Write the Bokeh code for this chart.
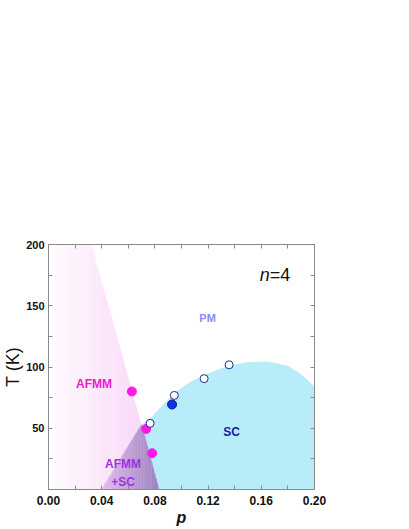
from bokeh.plotting import figure
from bokeh.models import Range1d, LinearAxis, FixedTicker, Label, ColumnDataSource
from bokeh.embed import file_html
from bokeh.resources import INLINE

# ---------------- data ----------------
# AFMM (magenta filled) points
afmm_p = [0.0627, 0.0734, 0.0779]
afmm_T = [80.0, 49.4, 29.6]
# Tc open circles
tc_p = [0.0764, 0.0946, 0.117, 0.1358]
tc_T = [54.0, 76.8, 90.5, 101.8]
# blue filled point
sc_p = [0.0929]
sc_T = [69.4]

# AFMM boundary line (p at T=200, p at T=0)
afmm_line_p = [0.0322, 0.083]
afmm_line_T = [200.0, 0.0]
afmm_left_p = 0.005

# AFMM+SC coexistence region vertices
coex_p = [0.040, 0.070, 0.083]
coex_T = [0.0, 53.0, 0.0]

# SC dome upper boundary
dome_p = [0.070, 0.077, 0.085, 0.095, 0.105, 0.12, 0.135, 0.15, 0.165, 0.18, 0.19, 0.20]
dome_T = [53, 58.5, 68, 79, 87, 95, 101, 104, 104.5, 101, 94, 84]

x_major = [0.00, 0.04, 0.08, 0.12, 0.16, 0.20]
x_minor = [0.02, 0.06, 0.10, 0.14, 0.18]
y_major = [50, 100, 150, 200]
y_minor = [25, 75, 125, 175]

FONT = "Liberation Sans"

p = figure(width=408, height=528, output_backend="svg", toolbar_location=None,
           x_range=Range1d(0, 0.2), y_range=Range1d(0, 200),
           x_axis_location=None, y_axis_location=None)
p.min_border_left = 47
p.min_border_right = 94
p.min_border_top = 244
p.min_border_bottom = 39
p.xgrid.visible = False
p.ygrid.visible = False
p.outline_line_color = "#8a8a8a"
p.outline_line_width = 1
p.background_fill_color = "white"
p.border_fill_color = "white"


def clip_strip(poly, a, b):
    def clip(pts, inside, inter):
        out = []
        n = len(pts)
        for i in range(n):
            cur, prev = pts[i], pts[i - 1]
            if inside(cur):
                if not inside(prev):
                    out.append(inter(prev, cur))
                out.append(cur)
            elif inside(prev):
                out.append(inter(prev, cur))
        return out

    def ix(x0):
        def f(p1, p2):
            t = (x0 - p1[0]) / (p2[0] - p1[0])
            return (x0, p1[1] + t * (p2[1] - p1[1]))
        return f

    pts = clip(poly, lambda q: q[0] >= a, ix(a))
    if not pts:
        return pts
    pts = clip(pts, lambda q: q[0] <= b, ix(b))
    return pts


def mix(c1, c2, t):
    return "#%02x%02x%02x" % tuple(int(round(c1[i] + (c2[i] - c1[i]) * t)) for i in range(3))


def gradient_fill(poly, x0, x1, c_left, c_right, n=40):
    xs, ys, cs = [], [], []
    for i in range(n):
        a = x0 + (x1 - x0) * i / n
        b = x0 + (x1 - x0) * (i + 1) / n + 1e-5
        pts = clip_strip(poly, a, b)
        if len(pts) < 3:
            continue
        xs.append([q[0] for q in pts])
        ys.append([q[1] for q in pts])
        cs.append(mix(c_left, c_right, (i + 0.5) / n))
    src = ColumnDataSource(dict(xs=xs, ys=ys, c=cs))
    p.patches("xs", "ys", source=src, fill_color="c", line_color="c", line_width=0.5)


# SC dome (light blue)
blue_x = [afmm_line_p[1]] + dome_p + [dome_p[-1]]
blue_y = [0.0] + dome_T + [0.0]
p.patch(blue_x, blue_y, fill_color="#b9ecf9", line_color=None)

# AFMM pink region with gradient
pink_poly = [(afmm_left_p, 0.0), (afmm_left_p, 200.0),
             (afmm_line_p[0], afmm_line_T[0]), (afmm_line_p[1], afmm_line_T[1])]
gradient_fill(pink_poly, afmm_left_p, afmm_line_p[1], (255, 250, 255), (248, 210, 246), n=50)

# AFMM+SC coexistence (purple gradient)
coex_poly = list(zip(coex_p, coex_T))
gradient_fill(coex_poly, coex_p[0], coex_p[2], (228, 190, 238), (156, 132, 192), n=40)

# points
p.scatter(afmm_p, afmm_T, size=9, fill_color="#ff19e6", line_color="#ff19e6")
p.scatter(tc_p, tc_T, size=8, fill_color="white", line_color="#1a2a9a", line_width=1)
p.scatter(sc_p, sc_T, size=9, fill_color="#1430e0", line_color="#0a1a9a", line_width=1)

# in-plot labels
def lab(x, y, text, color, size, style="bold", align="center"):
    p.add_layout(Label(x=x, y=y, text=text, text_color=color, text_font=FONT,
                       text_font_size=size, text_font_style=style,
                       text_align=align, text_baseline="middle"))

lab(0.0342, 86.5, "AFMM", "#e81ccc", "12px")
lab(0.1196, 140.0, "PM", "#8c8cee", "11px")
lab(0.1376, 47.0, "SC", "#1a1aa8", "12px")
lab(0.0560, 20.5, "AFMM", "#a030e8", "12px")
lab(0.0560, 6.5, "+SC", "#a030e8", "12px")
lab(0.1663, 175.0, "n", "#111111", "18px", style="italic", align="right")
lab(0.1663, 175.0, "=4", "#111111", "18px", style="normal", align="left")

# axes
def axis(ticks, minor, show_labels, fmt_dec=None, size="12px"):
    ax = LinearAxis(ticker=FixedTicker(ticks=ticks, minor_ticks=minor))
    ax.axis_line_color = "#8a8a8a"
    ax.major_tick_line_color = "#8a8a8a"
    ax.minor_tick_line_color = "#8a8a8a"
    ax.major_tick_in = 4
    ax.major_tick_out = 0
    ax.minor_tick_in = 4
    ax.minor_tick_out = 0
    ax.major_label_text_font = FONT
    ax.major_label_text_font_style = "bold"
    ax.major_label_text_font_size = size
    ax.major_label_text_color = "#111111"
    if show_labels:
        if fmt_dec is not None:
            ax.major_label_overrides = {t: ("%." + str(fmt_dec) + "f") % t for t in ticks}
    else:
        ax.major_label_overrides = {t: "" for t in ticks}
        ax.major_label_text_font_size = "1px"
    return ax

bottom = axis(x_major, x_minor, True, 2, "12px")
bottom.major_label_standoff = 6
bottom.axis_label = "p"
bottom.axis_label_text_font = FONT
bottom.axis_label_text_font_size = "16px"
bottom.axis_label_text_font_style = "bold italic"
bottom.axis_label_text_color = "#111111"
bottom.axis_label_standoff = 1

left = axis(y_major, y_minor, True, 0, "11px")
left.major_label_standoff = 4
left.axis_label = "T (K)"
left.axis_label_text_font = FONT
left.axis_label_text_font_size = "18px"
left.axis_label_text_font_style = "normal"
left.axis_label_text_color = "#111111"
left.axis_label_standoff = 0

top = axis(sorted(x_major + x_minor), [], False)
right = axis(y_minor + y_major, [], False)
p.add_layout(bottom, "below")
p.add_layout(left, "left")
p.add_layout(top, "above")
p.add_layout(right, "right")

open("out.html", "w").write(file_html(p, INLINE))
